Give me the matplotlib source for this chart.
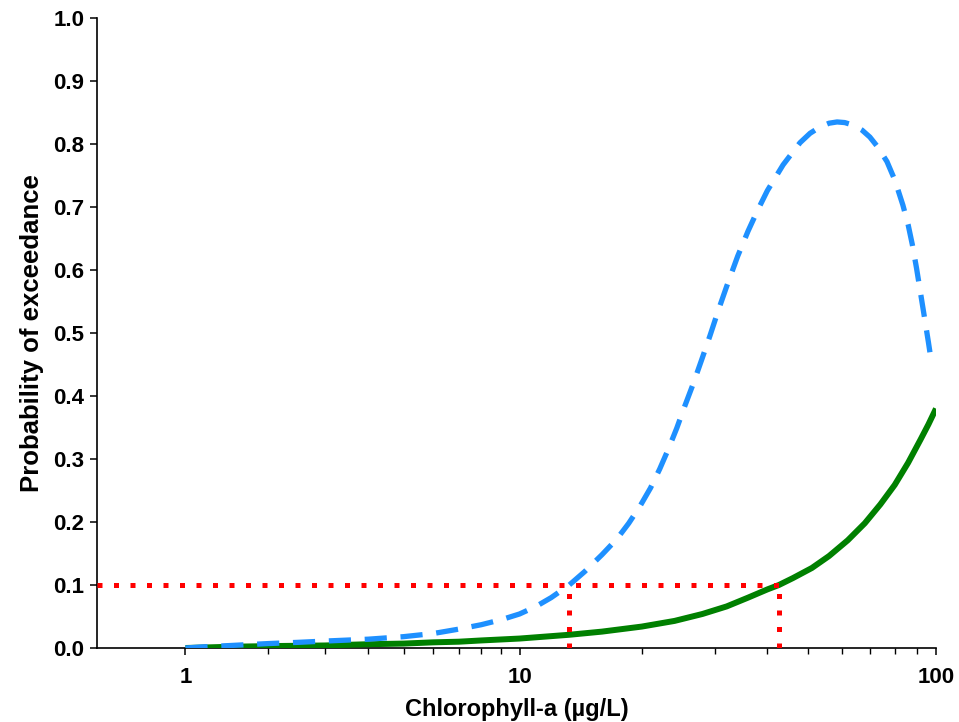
import numpy as np
import matplotlib
matplotlib.use("Agg")
import matplotlib.pyplot as plt
from matplotlib.ticker import FixedLocator, FixedFormatter, NullFormatter

# ---- data ----
blue_x = [1.0, 1.2, 1.5, 2.0, 2.5, 3.0, 4.0, 5.0, 6.0, 7.0, 8.0, 9.0, 10.0,
          11.0, 12.0, 13.3, 14.5, 16.0, 17.4, 18.6, 19.8, 21.0, 22.1, 23.2,
          24.3, 25.4, 26.6, 27.9, 29.2, 30.6, 32.0, 34.0, 36.0, 38.0, 40.0,
          43.6, 47.8, 50.5, 53.3, 56.0, 58.5, 61.0, 63.8, 67.0, 69.9, 73.0,
          76.7, 80.0, 83.6, 86.0, 88.0, 90.0, 92.0, 94.2, 96.0, 97.5]
blue_y = [0.0, 0.002, 0.004, 0.007, 0.009, 0.011, 0.014, 0.018, 0.023, 0.030,
          0.037, 0.045, 0.054, 0.066, 0.080, 0.100, 0.121, 0.148, 0.173, 0.198,
          0.225, 0.254, 0.284, 0.316, 0.349, 0.384, 0.419, 0.458, 0.496, 0.537,
          0.574, 0.622, 0.662, 0.696, 0.726, 0.767, 0.802, 0.817, 0.827, 0.833,
          0.835, 0.834, 0.830, 0.822, 0.811, 0.795, 0.772, 0.743, 0.703, 0.672,
          0.640, 0.603, 0.563, 0.520, 0.485, 0.455]

green_x = [1.0, 1.5, 2.0, 3.0, 4.0, 5.0, 6.0, 7.0, 8.0, 10.0, 13.3, 16.0, 20.0,
           24.0, 28.0, 32.0, 36.0, 40.0, 42.6, 46.0, 51.0, 56.0, 62.0, 68.0,
           74.0, 80.0, 86.0, 92.0, 96.0, 100.0]
green_y = [0.0, 0.002, 0.003, 0.004, 0.006, 0.007, 0.009, 0.010, 0.012, 0.015,
           0.021, 0.026, 0.034, 0.043, 0.054, 0.066, 0.080, 0.093, 0.100, 0.111,
           0.127, 0.146, 0.171, 0.198, 0.228, 0.259, 0.294, 0.331, 0.355, 0.380]

threshold = 0.1
cross_blue = 13.3
cross_green = 42.6

x_major = [1, 10, 100]
x_major_labels = ["1", "10", "100"]
x_minor = [2, 3, 4, 5, 6, 7, 8, 9, 20, 30, 40, 50, 60, 70, 80, 90]
y_ticks = [round(0.1 * i, 1) for i in range(11)]
y_labels = [f"{v:.1f}" for v in y_ticks]

xlabel = "Chlorophyll-a (µg/L)"
ylabel = "Probability of exceedance"

# ---- scale ----
C = 0.8
def fwd(x):
    x = np.asarray(x, dtype=float)
    return np.log10(np.maximum(x + C, 1e-9))
def inv(y):
    return 10 ** np.asarray(y, dtype=float) - C

plt.rcParams['font.family'] = ['Liberation Sans', 'DejaVu Sans']

fig = plt.figure(figsize=(9.59, 7.22), dpi=100)
ax = fig.add_axes([97/959, 1 - 648/722, (936 - 97)/959, (648 - 18)/722])
ax.set_xscale('function', functions=(fwd, inv))
ax.set_xlim(0.32, 100)
ax.set_ylim(0, 1.0)

ax.plot(green_x, green_y, color='#008000', lw=4.3, solid_capstyle='butt',
        solid_joinstyle='round', zorder=3)
ax.plot(blue_x, blue_y, color='#1E90FF', lw=3.8, linestyle=(0, (4.2, 2.6)),
        dash_capstyle='butt', dash_joinstyle='round', zorder=4)

red_style = dict(color='#FF0000', lw=3.6, linestyle=(0, (1, 2.3)),
                 dash_capstyle='butt', zorder=5)
ax.plot([0.32, cross_green], [threshold, threshold], **red_style)
ax.plot([cross_blue, cross_blue], [0, threshold], **red_style)
ax.plot([cross_green, cross_green], [0, threshold], **red_style)

for s in ['top', 'right']:
    ax.spines[s].set_visible(False)
for s in ['left', 'bottom']:
    ax.spines[s].set_linewidth(1.2)

ax.xaxis.set_major_locator(FixedLocator(x_major))
ax.xaxis.set_major_formatter(FixedFormatter(x_major_labels))
ax.xaxis.set_minor_locator(FixedLocator(x_minor))
ax.xaxis.set_minor_formatter(NullFormatter())
ax.set_yticks(y_ticks)
ax.set_yticklabels(y_labels)

ax.tick_params(axis='x', which='major', direction='out', length=5, width=1.1,
               pad=9, labelsize=16)
ax.tick_params(axis='x', which='minor', direction='out', length=4, width=1.0)
ax.tick_params(axis='y', direction='out', length=5, width=1.1, pad=4, labelsize=16)
for lab in ax.get_xticklabels() + ax.get_yticklabels():
    lab.set_fontweight('bold')

ax.set_xlabel(xlabel, fontsize=17, fontweight='bold', labelpad=7)
ax.set_ylabel(ylabel, fontsize=18.5, fontweight='bold', labelpad=7)

fig.savefig("out.png", dpi=100)
